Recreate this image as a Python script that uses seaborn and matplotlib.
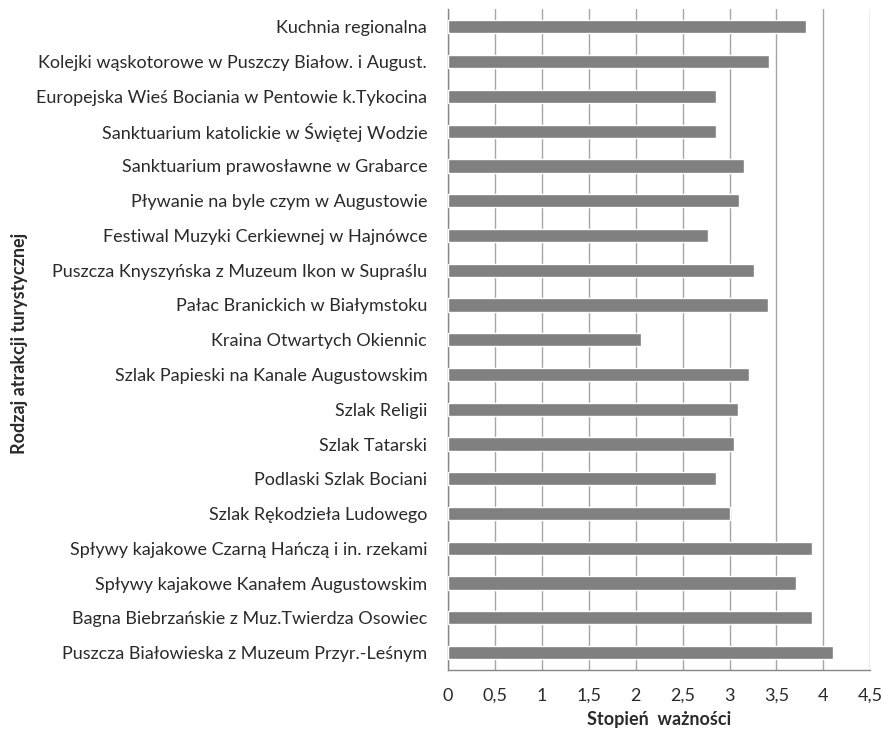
import matplotlib
matplotlib.use("Agg")
import matplotlib.pyplot as plt
import seaborn as sns
import pandas as pd
from matplotlib.ticker import FuncFormatter, MultipleLocator

categories = [
    "Kuchnia regionalna",
    "Kolejki wąskotorowe w Puszczy Białow. i August.",
    "Europejska Wieś Bociania w Pentowie k.Tykocina",
    "Sanktuarium katolickie w Świętej Wodzie",
    "Sanktuarium prawosławne w Grabarce",
    "Pływanie na byle czym w Augustowie",
    "Festiwal Muzyki Cerkiewnej w Hajnówce",
    "Puszcza Knyszyńska z Muzeum Ikon w Supraślu",
    "Pałac Branickich w Białymstoku",
    "Kraina Otwartych Okiennic",
    "Szlak Papieski na Kanale Augustowskim",
    "Szlak Religii",
    "Szlak Tatarski",
    "Podlaski Szlak Bociani",
    "Szlak Rękodzieła Ludowego",
    "Spływy kajakowe Czarną Hańczą i in. rzekami",
    "Spływy kajakowe Kanałem Augustowskim",
    "Bagna Biebrzańskie z Muz.Twierdza Osowiec",
    "Puszcza Białowieska z Muzeum Przyr.-Leśnym",
]
values = [3.81, 3.42, 2.86, 2.86, 3.15, 3.10, 2.77, 3.26, 3.41, 2.06,
          3.21, 3.09, 3.05, 2.86, 3.00, 3.88, 3.71, 3.88, 4.10]
x_label = "Stopień  ważności"
y_label = "Rodzaj atrakcji turystycznej"

df = pd.DataFrame({"cat": categories, "val": values})

sns.set_style("white")
plt.rcParams['font.family'] = ['Lato', 'DejaVu Sans']

fig = plt.figure(figsize=(8.83, 7.30), dpi=100)
ax = fig.add_axes([0.5074, 0.0822, 0.9856 - 0.5074, 0.987 - 0.0822])

sns.barplot(data=df, x="val", y="cat", orient="h", color="#808080",
            saturation=1, width=0.38, ax=ax, zorder=3)

ax.set_xlim(0, 4.5)
ax.set_ylim(18.5, -0.5)
ax.xaxis.set_major_locator(MultipleLocator(0.5))
ax.xaxis.set_major_formatter(FuncFormatter(lambda v, p: f"{v:g}".replace(".", ",")))
ax.grid(axis="x", color="#a6a6a6", linewidth=1, zorder=0)
ax.set_axisbelow(True)

for s in ["top", "right"]:
    ax.spines[s].set_visible(False)
for s in ["left", "bottom"]:
    ax.spines[s].set_color("#868686")
    ax.spines[s].set_linewidth(1)

txt = "#2a2a2a"
ax.tick_params(axis="x", direction="out", length=6, color="#868686",
               labelsize=13, labelcolor=txt, pad=7)
ax.tick_params(axis="y", length=0, labelsize=13, labelcolor=txt, pad=15)

ax.set_xlabel(x_label, fontsize=13, fontweight="bold", color=txt, labelpad=5)
ax.set_ylabel(y_label, fontsize=13, fontweight="bold", color=txt)
ax.yaxis.set_label_coords(28.5 / 883, 1 - 343 / 730, transform=fig.transFigure)

fig.savefig("out.png", dpi=100)
